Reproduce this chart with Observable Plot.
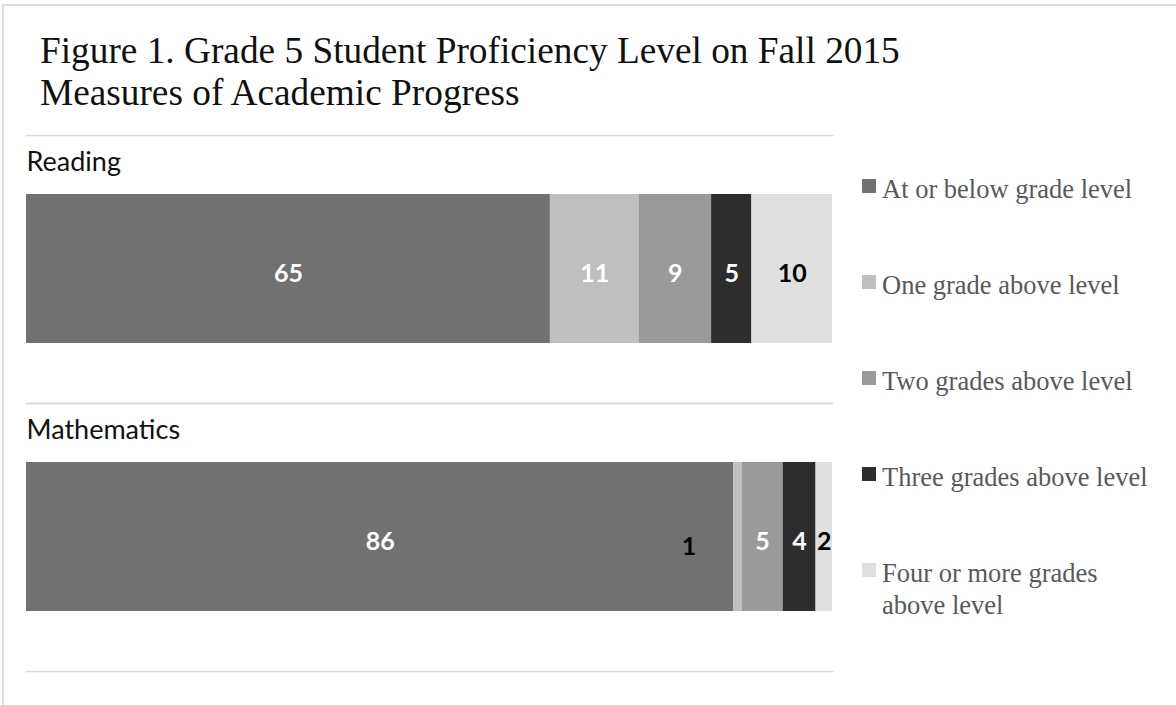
<!DOCTYPE html>
<html><head><meta charset="utf-8">
<script src="https://cdn.jsdelivr.net/npm/d3@7"></script>
<script src="https://cdn.jsdelivr.net/npm/@observablehq/plot@0.6"></script>
<style>
body{margin:0;background:#fff;}
#wrap{position:relative;width:1176px;height:705px;overflow:hidden;background:#fff;}
#border{position:absolute;left:2px;top:4px;right:-10px;bottom:-10px;border-top:2px solid #dddddd;border-left:2px solid #dddddd;}
#title{position:absolute;left:40px;top:30px;font-family:"Liberation Serif";font-size:37.3px;line-height:42px;color:#111;white-space:nowrap;}
#chart{position:absolute;left:0;top:0;}
#legend{position:absolute;left:862px;top:0;}
.sw{position:absolute;left:0;width:14px;height:14px;}
.lab{position:absolute;left:20px;width:285px;font-family:"Liberation Serif";font-size:26.5px;line-height:32px;color:#595959;}
</style></head>
<body>
<div id="wrap"><div id="border"></div><div id="chart"></div>
<div id="title">Figure 1. Grade 5 Student Proficiency Level on Fall 2015<br>Measures of Academic Progress</div>
<div id="legend"></div></div>
<script>
const subjects = ["Reading", "Mathematics"];
const categories = ["At or below grade level", "One grade above level", "Two grades above level", "Three grades above level", "Four or more grades above level"];
const readingValues = [65, 11, 9, 5, 10];
const mathematicsValues = [86, 1, 5, 4, 2];
const colors = ["#717171", "#bfbfbf", "#9a9a9a", "#2d2d2d", "#e0e0e0"];
const darkLabelCategories = ["Four or more grades above level"];

const valuesBySubject = {"Reading": readingValues, "Mathematics": mathematicsValues};
const rows = subjects.flatMap(s => categories.map((c, i) => ({subject: s, category: c, value: valuesBySubject[s][i]})));
const displaced = d => d.subject === "Mathematics" && d.category === "One grade above level";
const isDark = d => darkLabelCategories.includes(d.category);

const stackOpts = (text, extra) => Plot.stackX({
  x: "value", fy: "subject", z: "category", order: categories, offset: "normalize",
  text, fontFamily: "Lato", fontWeight: "bold", fontSize: 25, dy: 4, ...extra
});

const plot = Plot.plot({
  width: 840, height: 705,
  marginTop: 134, marginBottom: 34, marginLeft: 26, marginRight: 8,
  x: {axis: null, domain: [0, 1]},
  fy: {axis: null, domain: subjects, padding: 0},
  color: {domain: categories, range: colors},
  style: {background: "transparent"},
  marks: [
    Plot.frame({anchor: "top", stroke: "#d9d9d9", strokeWidth: 1.5}),
    Plot.frame({anchor: "bottom", stroke: "#d9d9d9", strokeWidth: 1.5}),
    Plot.text(subjects, {fy: d => d, text: d => d, frameAnchor: "top-left", textAnchor: "start", lineAnchor: "bottom", dy: 35, fontFamily: "Lato", fontSize: 27, fill: "#111"}),
    Plot.barX(rows, Plot.stackX({x: "value", fy: "subject", fill: "category", order: categories, offset: "normalize", insetTop: 59, insetBottom: 60})),
    Plot.text(rows, stackOpts(d => (!isDark(d) && !displaced(d)) ? String(d.value) : "", {fill: "white"})),
    Plot.text(rows, stackOpts(d => (isDark(d) && !displaced(d)) ? String(d.value) : "", {fill: "black"})),
    Plot.text(rows, stackOpts(d => displaced(d) ? String(d.value) : "", {fill: "black", dx: -49, dy: 9}))
  ]
});
document.getElementById("chart").appendChild(plot);

const legend = d3.select("#legend");
categories.forEach((c, i) => {
  legend.append("div").attr("class", "sw").style("top", (179 + 96 * i) + "px").style("background", colors[i]);
  legend.append("div").attr("class", "lab").style("top", (173 + 96 * i) + "px").text(c);
});
</script>
</body></html>
